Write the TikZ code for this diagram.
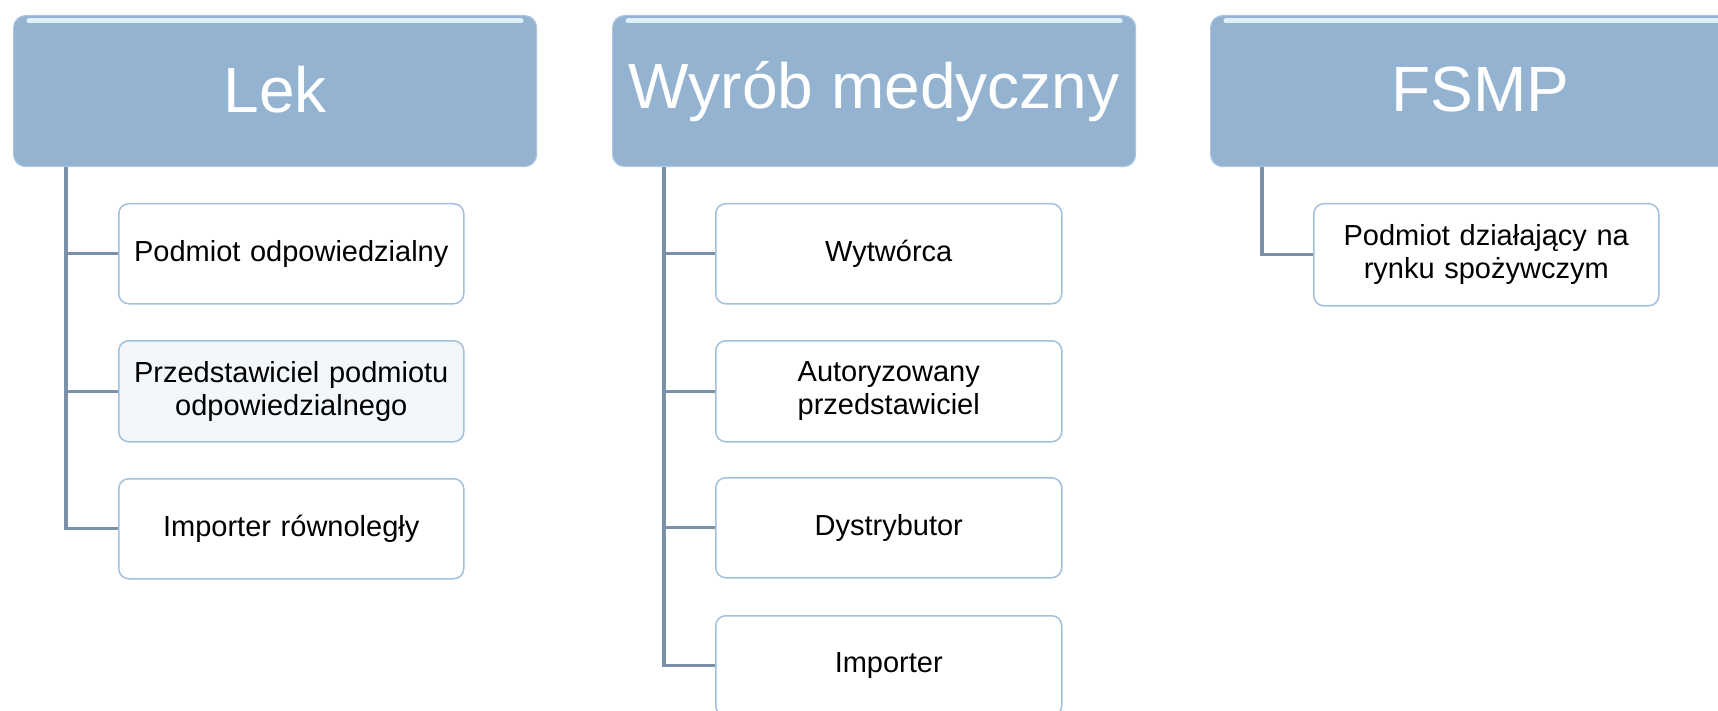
\documentclass[tikz,border=0pt]{standalone}
\usepackage{fontspec}
\setmainfont{Liberation Sans}
\usetikzlibrary{calc}
\definecolor{hdrfill}{HTML}{94B3D1}
\definecolor{hdredge}{HTML}{A9C6E2}
\definecolor{gloss}{HTML}{DDF1FB}
\definecolor{kidedge}{HTML}{A3C0DD}
\definecolor{kidfill2}{HTML}{F4F7F9}
\definecolor{stem}{HTML}{7A91A9}
\newcommand{\hdrtext}[1]{\raisebox{4pt}{#1}}
\tikzset{
  hdr/.style={draw=hdredge, line width=1.2pt, fill=hdrfill, rounded corners=12pt,
    anchor=north west, minimum height=151pt, inner sep=0pt,
    text=white, font=\fontsize{64}{70}\selectfont},
  kid/.style={draw=kidedge, line width=1.5pt, fill=white, rounded corners=10pt,
    anchor=north west, minimum height=100pt, inner sep=0pt, align=center,
    text=black, font=\fontsize{29}{33}\selectfont},
  link/.style={draw=stem, line width=3.2pt},
  shine/.style={draw=gloss, line width=5pt, line cap=round}
}
\begin{document}
\begin{tikzpicture}[x=1pt,y=-1pt]
\useasboundingbox (0,0) rectangle (1718,711);
\clip (0,0) rectangle (1718,711);
% headers
\node[hdr, minimum width=523pt] (lek) at (13,15) {\hdrtext{Lek}};
\node[hdr, minimum width=523pt] (wyr) at (612,15) {\hdrtext{Wyrób medyczny}};
\node[hdr, minimum width=540pt] (fsmp) at (1210,15) {\hdrtext{FSMP}};
\draw[shine] ($(lek.north west)+(16,6)$) -- ($(lek.north east)+(-16,6)$);
\draw[shine] ($(wyr.north west)+(16,6)$) -- ($(wyr.north east)+(-16,6)$);
\draw[shine] ($(fsmp.north west)+(16,6)$) -- ($(fsmp.north east)+(-16,6)$);
% stems
\coordinate (lekstem) at ($(lek.south west)+(53,0)$);
\coordinate (wyrstem) at ($(wyr.south west)+(52,0)$);
\coordinate (fsmpstem) at ($(fsmp.south west)+(52,0)$);
% column 1
\node[kid, minimum width=345pt, text width=335pt] (a1) at (118,203) {Podmiot odpowiedzialny};
\node[kid, minimum width=345pt, text width=335pt, minimum height=101pt, fill=kidfill2] (a2) at (118,340) {Przedstawiciel podmiotu\\odpowiedzialnego};
\node[kid, minimum width=345pt, text width=335pt] (a3) at (118,478) {Importer równoległy};
% column 2
\node[kid, minimum width=346pt, text width=335pt] (b1) at (715,203) {Wytwórca};
\node[kid, minimum width=346pt, text width=335pt, minimum height=101pt] (b2) at (715,340) {Autoryzowany\\przedstawiciel};
\node[kid, minimum width=346pt, text width=335pt] (b3) at (715,477) {Dystrybutor};
\node[kid, minimum width=346pt, text width=335pt] (b4) at (715,615) {Importer};
% column 3
\node[kid, minimum width=345pt, text width=335pt, minimum height=102pt] (c1) at (1313,203) {Podmiot działający na\\rynku spożywczym};
% connectors
\draw[link] (lekstem) |- (a1.west);
\draw[link] (lekstem) |- (a2.west);
\draw[link] (lekstem) |- (a3.west);
\draw[link] (wyrstem) |- (b1.west);
\draw[link] (wyrstem) |- (b2.west);
\draw[link] (wyrstem) |- (b3.west);
\draw[link] (wyrstem) |- (b4.west);
\draw[link] (fsmpstem) |- (c1.west);
\end{tikzpicture}
\end{document}
